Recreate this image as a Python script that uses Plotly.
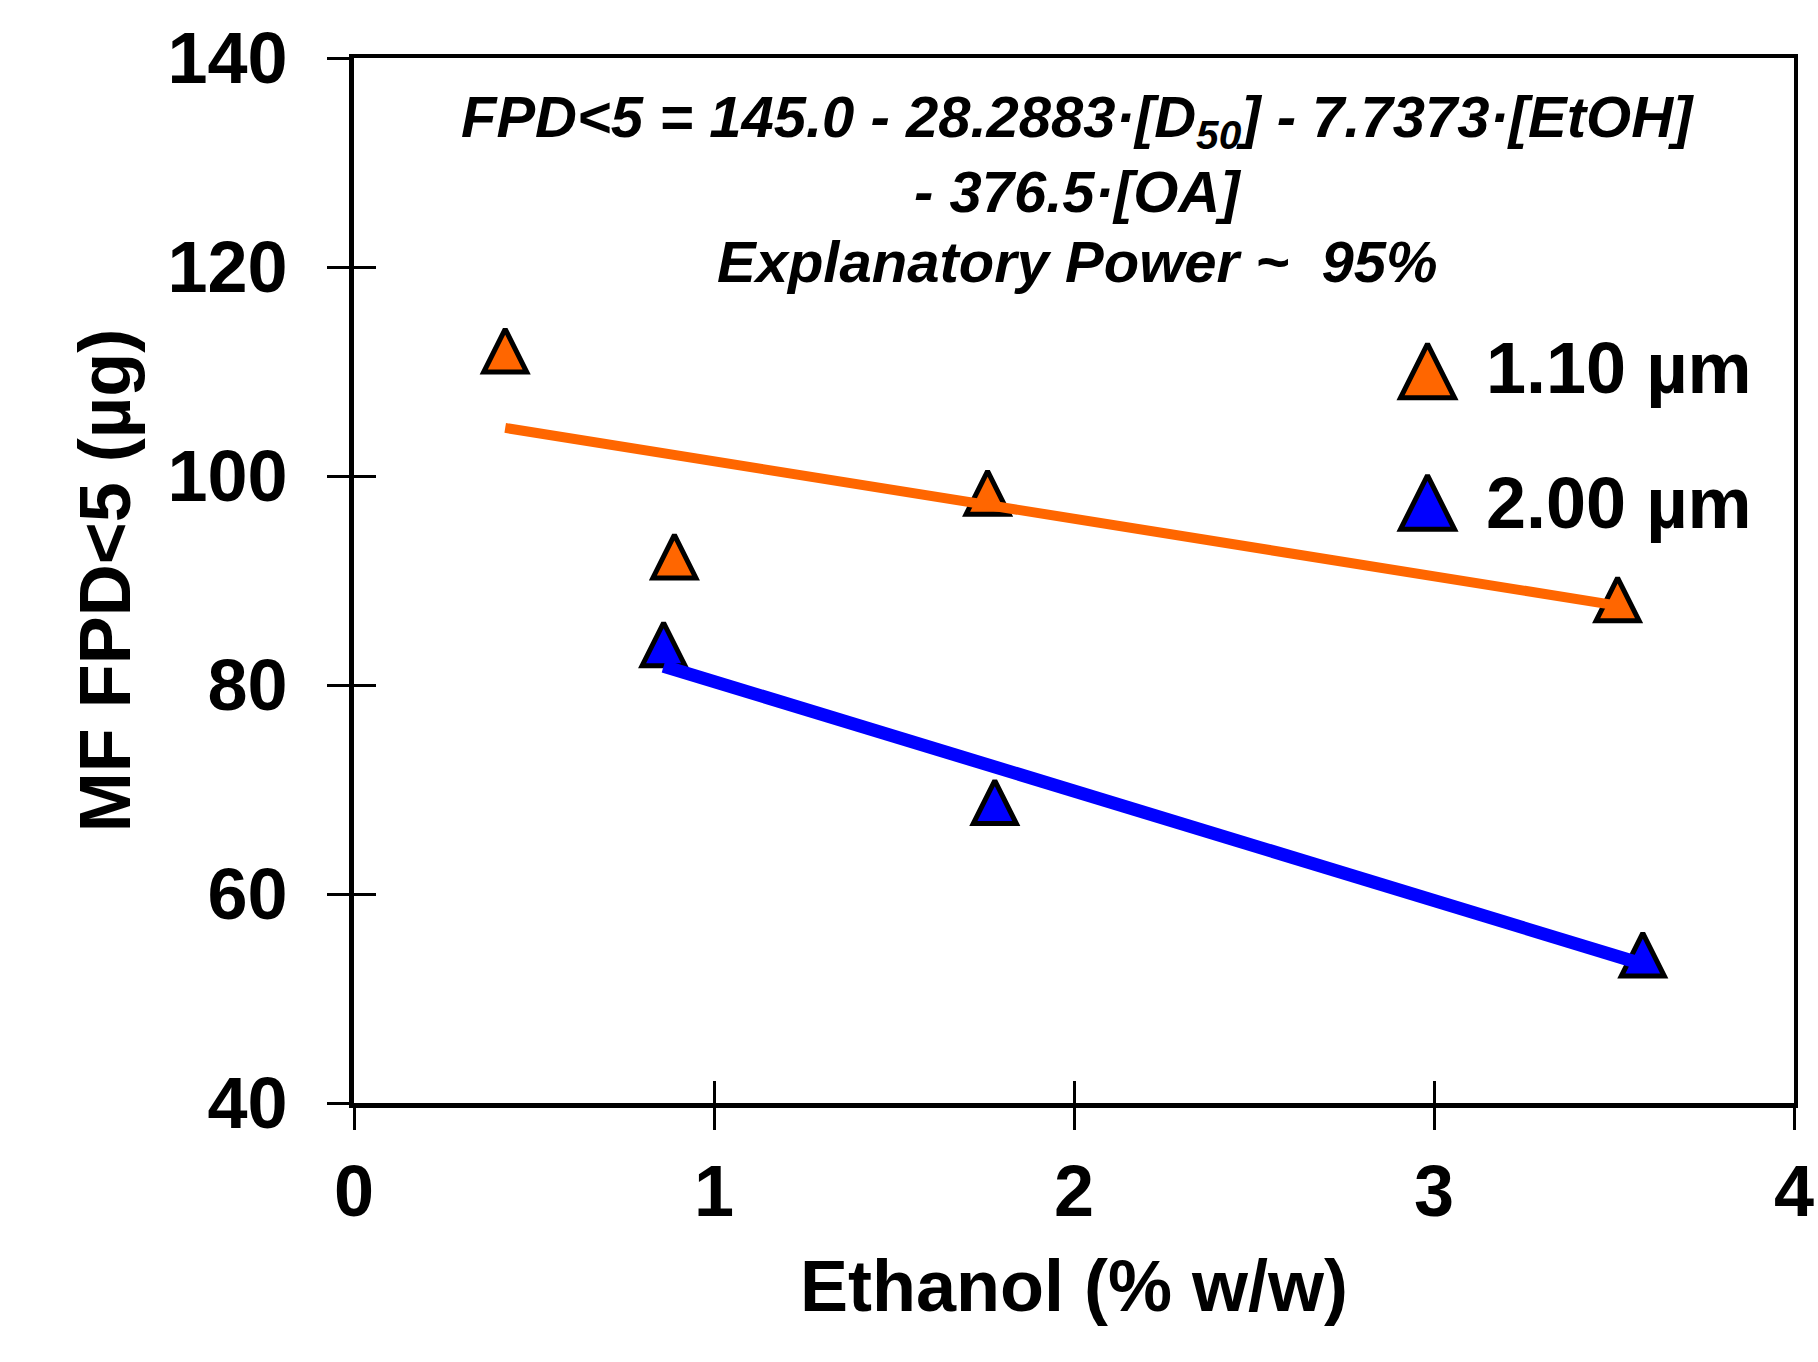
import plotly.graph_objects as go

# ---------------- data ----------------
ethanol_110 = [0.42, 0.89, 1.76, 3.51]
fpd_110 = [112.0, 92.3, 98.4, 88.2]
ethanol_200 = [0.86, 1.78, 3.58]
fpd_200 = [83.9, 68.8, 54.2]

fit_x_110 = [0.42, 3.51]
fit_y_110 = [104.6, 87.6]
fit_x_200 = [0.86, 3.57]
fit_y_200 = [81.8, 53.4]

series_names = ["1.10 µm", "2.00 µm"]
x_ticks = [0, 1, 2, 3, 4]
y_ticks = [40, 60, 80, 100, 120, 140]

equation_lines = [
    "FPD&lt;5 = 145.0 - 28.2883·[D<sub>50</sub>] - 7.7373·[EtOH]",
    "- 376.5·[OA]",
    "Explanatory Power ~&nbsp; 95%",
]

# ---------------- style ----------------
ORANGE = "#FF6600"
BLUE = "#0000FF"
FONT = "Liberation Sans, Arial, sans-serif"
MSIZE = 43
LEG_MSIZE = 54

def tri_marker(color, size, lw=5):
    return dict(symbol="arrow-down", angle=180, standoff=size / 2, size=size,
                color=color, line=dict(color="black", width=lw))

fig = go.Figure()

# data markers (main axes)
fig.add_trace(go.Scatter(x=ethanol_110, y=fpd_110, mode="markers",
                         marker=tri_marker(ORANGE, MSIZE), showlegend=False,
                         xaxis="x", yaxis="y"))
fig.add_trace(go.Scatter(x=ethanol_200, y=fpd_200, mode="markers",
                         marker=tri_marker(BLUE, MSIZE), showlegend=False,
                         xaxis="x", yaxis="y"))

# fit lines drawn on overlay axes (same scale) so they sit above markers
fig.add_trace(go.Scatter(x=fit_x_110, y=fit_y_110, mode="lines",
                         line=dict(color=ORANGE, width=10), showlegend=False,
                         xaxis="x2", yaxis="y2"))
fig.add_trace(go.Scatter(x=fit_x_200, y=fit_y_200, mode="lines",
                         line=dict(color=BLUE, width=13), showlegend=False,
                         xaxis="x2", yaxis="y2"))

# custom legend keys (positions in plot-area fractions)
leg_x = [0.7455, 0.7455]
leg_y = [0.7007, 0.5748]
leg_text_x = 0.7847
leg_text_y = [0.7033, 0.5742]
fig.add_trace(go.Scatter(x=leg_x[:1], y=leg_y[:1], mode="markers",
                         marker=tri_marker(ORANGE, LEG_MSIZE), showlegend=False,
                         xaxis="x3", yaxis="y3", hoverinfo="skip"))
fig.add_trace(go.Scatter(x=leg_x[1:], y=leg_y[1:], mode="markers",
                         marker=tri_marker(BLUE, LEG_MSIZE), showlegend=False,
                         xaxis="x3", yaxis="y3", hoverinfo="skip"))

tickfont = dict(family=FONT, size=72, color="black", weight="bold")
titlefont = dict(family=FONT, size=72, color="black", weight="bold")

common = dict(showgrid=False, zeroline=False)

fig.update_layout(
    width=1818, height=1362,
    margin=dict(l=354, r=24, t=58, b=259, autoexpand=False),
    paper_bgcolor="white", plot_bgcolor="white",
    showlegend=False,
    xaxis=dict(range=[0, 4], tickvals=x_ticks, ticks="outside", ticklen=22,
               tickwidth=3, tickcolor="black", showline=True, linewidth=5,
               linecolor="black", tickfont=tickfont, ticklabelstandoff=0,
               title=dict(text="Ethanol (% w/w)", font=titlefont, standoff=32),
               **common),
    yaxis=dict(range=[40, 140], tickvals=y_ticks, ticks="outside", ticklen=22,
               tickwidth=3, tickcolor="black", showline=True, linewidth=5,
               linecolor="black", tickfont=tickfont, ticklabelstandoff=25,
               title=dict(text="MF FPD&lt;5 (µg)", font=titlefont, standoff=15),
               **common),
    xaxis2=dict(range=[0, 4], tickvals=x_ticks, ticks="inside", ticklen=22,
                tickwidth=3, tickcolor="black", showticklabels=False,
                showline=False, overlaying="x", anchor="y2", side="bottom",
                **common),
    yaxis2=dict(range=[40, 140], tickvals=y_ticks, ticks="inside", ticklen=22,
                tickwidth=3, tickcolor="black", showticklabels=False,
                showline=False, overlaying="y", anchor="x2", side="left",
                **common),
    xaxis3=dict(range=[0, 1], ticks="", showticklabels=False, showline=True,
                linewidth=3.5, linecolor="black", overlaying="x", anchor="y3",
                side="top", **common),
    yaxis3=dict(range=[0, 1], ticks="", showticklabels=False, showline=True,
                linewidth=3.5, linecolor="black", overlaying="y", anchor="x3",
                side="right", **common),
)

eq_font = dict(family=FONT, size=58, color="black", weight="bold", style="italic")
eq_y = [0.9397, 0.8721, 0.8051]
for txt, yy in zip(equation_lines, eq_y):
    fig.add_annotation(text=txt, x=0.5024, y=yy, xref="paper", yref="paper",
                       xanchor="center", yanchor="middle", showarrow=False,
                       font=eq_font)

leg_font = dict(family=FONT, size=72, color="black", weight="bold")
for name, yy in zip(series_names, leg_text_y):
    fig.add_annotation(text=name, x=leg_text_x, y=yy, xref="paper", yref="paper",
                       xanchor="left", yanchor="middle", showarrow=False,
                       font=leg_font)

fig.write_html("out.html")
